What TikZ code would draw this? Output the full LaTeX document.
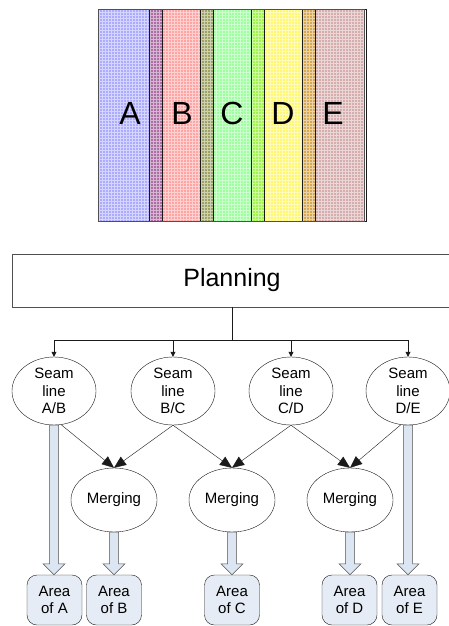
\documentclass[tikz,border=0pt]{standalone}
\usepackage{fontspec}
\setmainfont{Liberation Sans}
\usepackage{xcolor}
\usetikzlibrary{arrows.meta,calc,shapes.geometric}
\definecolor{vdarkgray}{HTML}{1a1a1a}
\definecolor{vframe}{HTML}{505050}
\definecolor{vbrown}{HTML}{993333}
\definecolor{vpale}{HTML}{E6ECF5}
\definecolor{varrow}{HTML}{DCE6F2}

\tikzset{
	seam/.style={draw=vdarkgray, ellipse, minimum width=84, minimum height=68, inner sep=0, align=center, font=\fontsize{15}{17.5}\selectfont},
	merge/.style={draw=vdarkgray, ellipse, minimum width=86, minimum height=64, inner sep=0, font=\fontsize{15}{17.5}\selectfont},
	area/.style={draw=vdarkgray, fill=vpale, rounded corners=10, minimum width=55, minimum height=50, inner sep=0, align=center, font=\fontsize{15}{17.5}\selectfont},
	feed/.style={draw=vdarkgray, -{Triangle[length=12pt, width=10pt]}},
	branch/.style={draw=vdarkgray, -{Triangle[length=5pt, width=5pt]}},
	fatarrow/.style={draw=vframe, fill=varrow, line width=0.5pt, line join=miter},
	letter/.style={font=\fontsize{32}{32}\selectfont},
}

\newcommand{\fatarrow}[2]{%
	\draw[fatarrow] let \p1 = (#1), \p2 = (#2) in
		(\x1-4.5pt,\y1) -- (\x1-4.5pt,\y2+11pt) -- (\x1-11pt,\y2+11pt) -- (\x1,\y2)
		-- (\x1+11pt,\y2+11pt) -- (\x1+4.5pt,\y2+11pt) -- (\x1+4.5pt,\y1) -- cycle;}

\begin{document}
\begin{tikzpicture}[x=1pt, y=-1pt]
		\useasboundingbox[fill=white] (0,0) rectangle (449,626);

		% overlapping strips
		\begin{scope}[blend mode=multiply]
			\fill[blue, fill opacity=.33] (98,9) rectangle (162,221);
			\fill[red, fill opacity=.36] (149,9) rectangle (213,221);
			\fill[green, fill opacity=.38] (200,9) rectangle (264,221);
			\fill[yellow, fill opacity=.55] (251,9) rectangle (315,221);
			\fill[vbrown, fill opacity=.4] (302,9) rectangle (364,221);
		\end{scope}
		\draw[white, line width=0.6pt, step=3pt, opacity=.5] (98,221) grid (364,9);
		\foreach \x in {98,149,200,251,302} {
			\draw[color=vdarkgray, line width=0.5pt] (\x,9) rectangle ({\x+64},221);
		}
		\draw[color=vframe, line width=0.6pt] (98,9) rectangle (364,221);
		\node[letter] (la) at (130,113) {A};
		\node[letter] (lb) at (182,113) {B};
		\node[letter] (lc) at (232,113) {C};
		\node[letter] (ld) at (283,113) {D};
		\node[letter] (le) at (333,113) {E};

		% planning and seam lines
		\node[draw=vframe, minimum width=440, minimum height=53, inner sep=0, font=\fontsize{25}{25}\selectfont] (plan) at (232,280.5) {Planning};
		\coordinate (bus) at (232,340);
		\node[seam] (ab) at (54,391) {Seam\\line\\A/B};
		\node[seam] (bc) at (173,391) {Seam\\line\\B/C};
		\node[seam] (cd) at (291,391) {Seam\\line\\C/D};
		\node[seam] (de) at (408,391) {Seam\\line\\D/E};
		\draw[color=vdarkgray, line width=0.8pt] (plan.south) -- (bus);
		\draw[branch] (bus) -| (ab.north);
		\draw[branch] (bus) -| (bc.north);
		\draw[branch] (bus) -| (cd.north);
		\draw[branch] (bus) -| (de.north);

		% merging
		\node[merge] (m1) at (114,500) {Merging};
		\node[merge] (m2) at (232,500) {Merging};
		\node[merge] (m3) at (350,500) {Merging};
		\draw[feed] (ab.-78) -- (m1.north);
		\draw[feed] (bc.south) -- (m1.north);
		\draw[feed] (bc.south) -- (m2.north);
		\draw[feed] (cd.south) -- (m2.north);
		\draw[feed] (cd.south) -- (m3.north);
		\draw[feed] (de.-102) -- (m3.north);

		% areas
		\node[area] (aa) at (54.5,600) {Area\\of A};
		\node[area] (ab2) at (114,600) {Area\\of B};
		\node[area] (ac) at (232,600) {Area\\of C};
		\node[area] (ad) at (349.5,600) {Area\\of D};
		\node[area] (ae) at (409.5,600) {Area\\of E};
		\fatarrow{ab.south}{aa.north}
		\fatarrow{m1.south}{ab2.north}
		\fatarrow{m2.south}{ac.north}
		\fatarrow{m3.south}{ad.north}
		\fatarrow{de.south}{ae.north}
	\end{tikzpicture}
\end{document}
